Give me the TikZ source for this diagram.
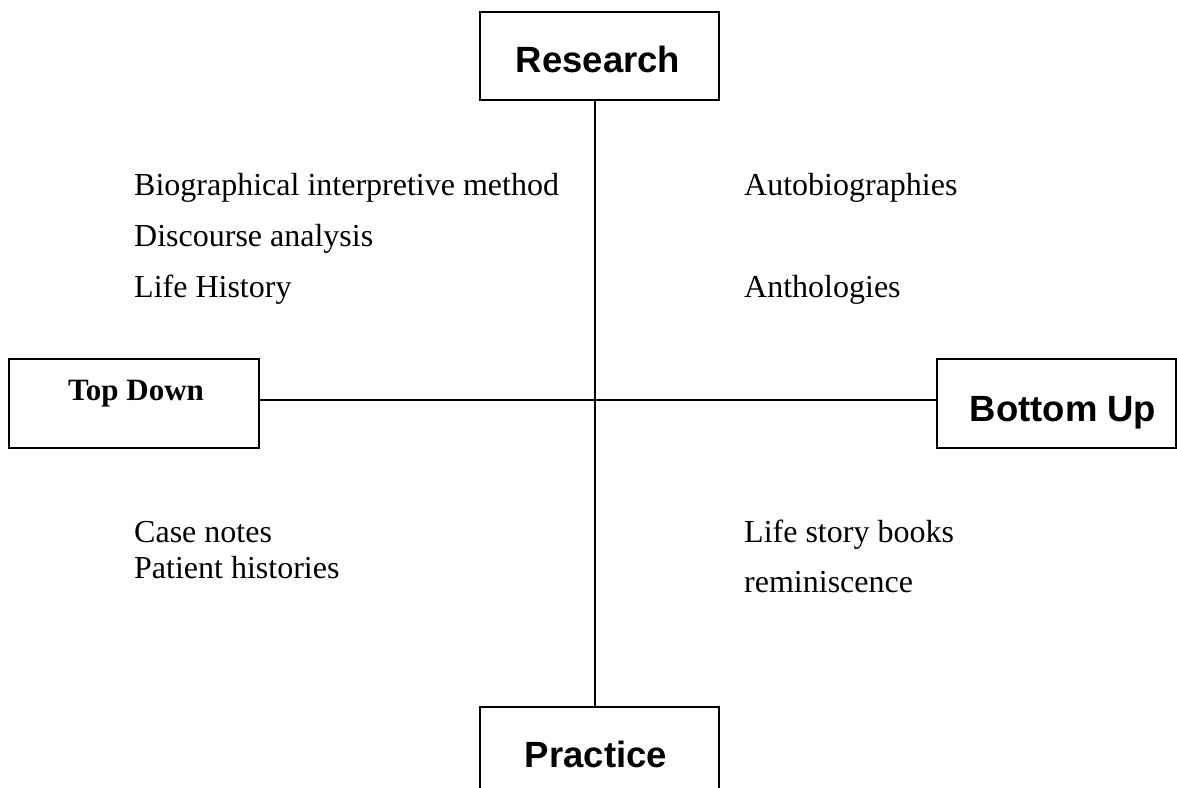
\documentclass[tikz,border=0pt]{standalone}
\usepackage{fontspec}
\setmainfont{Liberation Serif}
\newfontfamily\arialfont{Liberation Sans}
\begin{document}
\begin{tikzpicture}[x=1pt,y=1pt,
  box/.style={draw=black,line width=1.6pt,rectangle,inner sep=0pt},
  boxlabel/.style={inner sep=0pt,anchor=base,font=\arialfont\bfseries\fontsize{36.5}{40}\selectfont},
  item/.style={inner sep=0pt,anchor=base west,font=\fontsize{32}{36}\selectfont},
  link/.style={line width=1.6pt}]
\useasboundingbox (0,0) rectangle (1177,787);
\clip (0,0) rectangle (1177,787);
% boxes (y = 787 - pixel row)
\node[box,minimum width=239pt,minimum height=88pt] (research) at (599.5,731) {};
\node[box,minimum width=250pt,minimum height=89pt] (topdown) at (134,383.5) {};
\node[box,minimum width=239pt,minimum height=89pt] (bottomup) at (1056.5,383.5) {};
\node[box,minimum width=239pt,minimum height=100pt] (practice) at (599.5,30) {};
\coordinate (c) at (595,387);
% box labels
\node[boxlabel] (researchtxt) at (598,714) {Research};
\node[inner sep=0pt,anchor=base,font=\bfseries\fontsize{31}{34}\selectfont] (topdowntxt) at (136,386) {Top Down};
\node[boxlabel] (bottomuptxt) at (1063,365) {Bottom Up};
\node[boxlabel] (practicetxt) at (596,20) {Practice};
% connectors
\draw[link] (research.south -| c) -- (practice.north -| c);
\draw[link] (topdown.east |- c) -- (bottomup.west |- c);
% items
\node[item] (bio) at (134,591) {Biographical interpretive method};
\node[item] (disc) at (134,540) {Discourse analysis};
\node[item] (life) at (134,489) {Life History};
\node[item] (auto) at (744,591) {Autobiographies};
\node[item] (anth) at (744,489) {Anthologies};
\node[item] (case) at (134,244) {Case notes};
\node[item] (pat) at (134,208) {Patient histories};
\node[item] (lsb) at (744,244) {Life story books};
\node[item] (remi) at (744,194) {reminiscence};
\end{tikzpicture}
\end{document}
